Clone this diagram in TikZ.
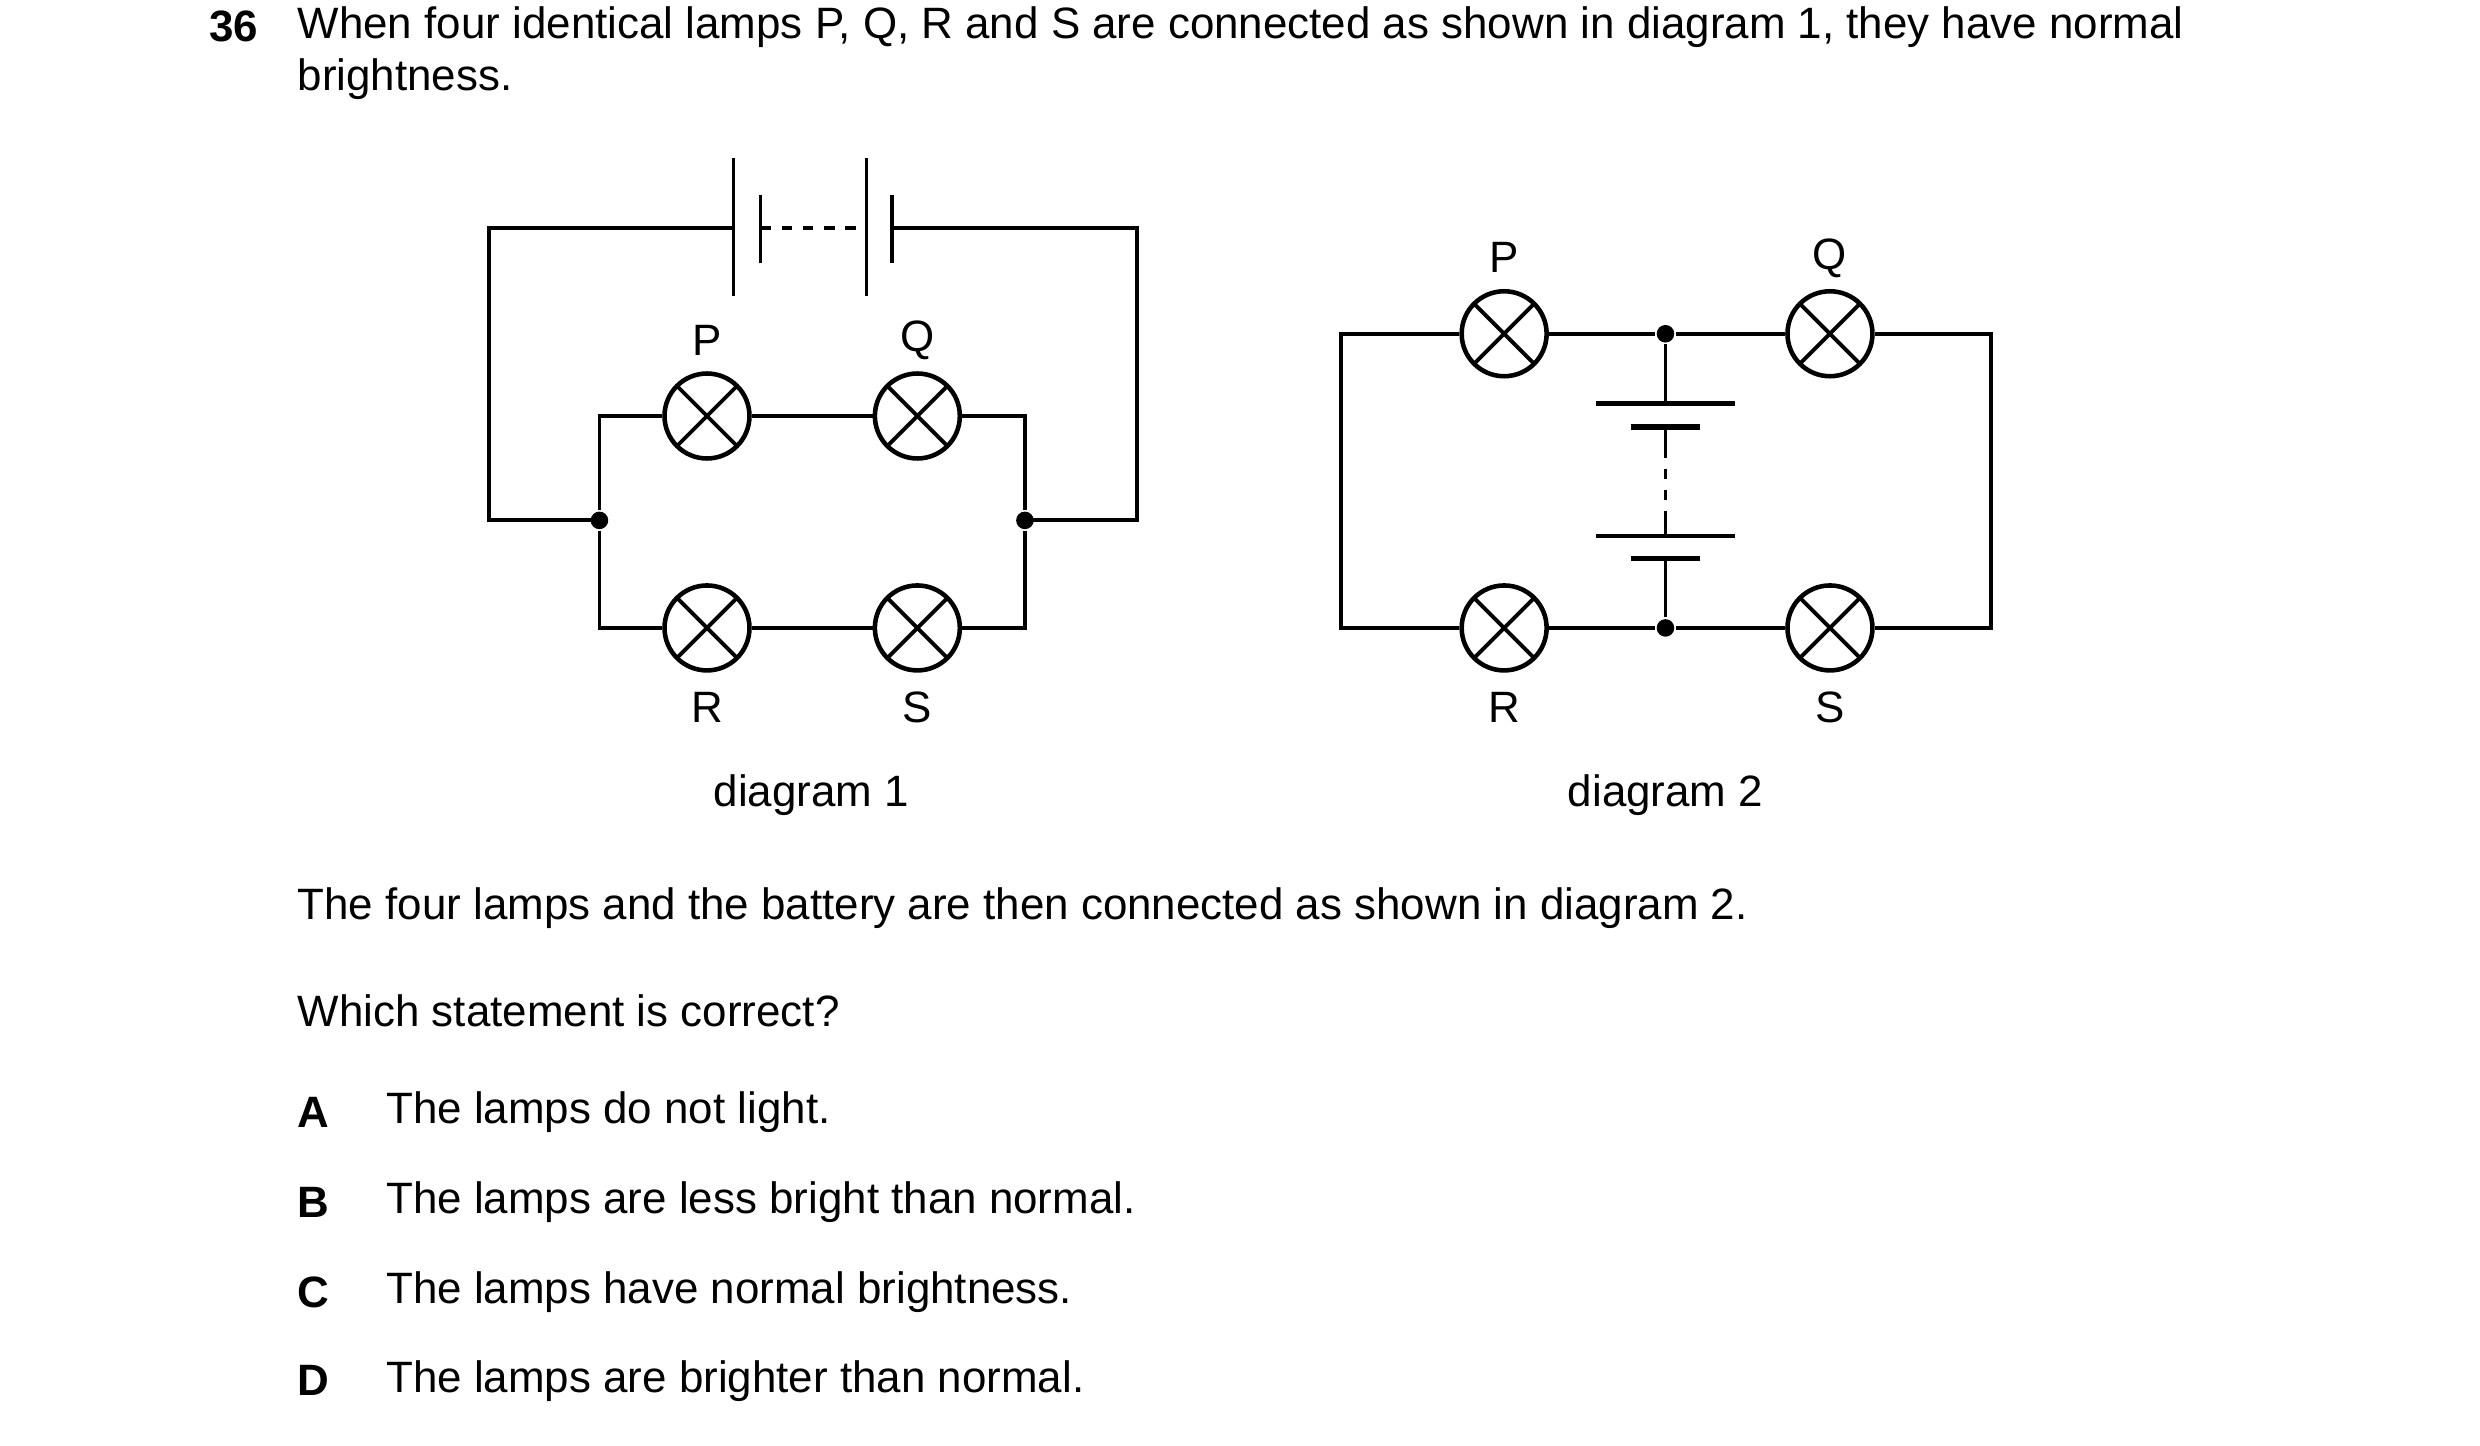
\documentclass[tikz,border=0pt]{standalone}
\usepackage{fontspec}
\setmainfont{Liberation Sans}
\begin{document}
\begin{tikzpicture}[x=0.015816cm,y=-0.015816cm,line width=1.1pt,
	lamp/.style={circle,draw,line width=1.3pt,fill=white,minimum size=0.85cm,inner sep=0pt,
		path picture={\draw[line width=1.1pt] (path picture bounding box.north west) -- (path picture bounding box.south east)
		(path picture bounding box.north east) -- (path picture bounding box.south west);}},
	jdot/.style={circle,fill,inner sep=0pt,minimum size=5pt},
	txt/.style={anchor=west,inner sep=0pt,font=\fontsize{12.5}{15}\selectfont},
	lbl/.style={inner sep=0pt,font=\fontsize{12.5}{15}\selectfont}]
	
	\useasboundingbox (0,0) rectangle (1568,914);
	
	% texto
	\node[txt,font=\fontsize{12.5}{15}\selectfont\bfseries] (num) at (131,17) {36};
	\node[txt] (l1) at (187,17) {When four identical lamps P, Q, R and S are connected as shown in diagram 1, they have normal};
	\node[txt] (l2) at (187,50) {brightness.};
	\node[txt] (l3) at (187,574) {The four lamps and the battery are then connected as shown in diagram 2.};
	\node[txt] (l4) at (187,639) {Which statement is correct?};
	\foreach \opt/\txtline/\yy in {A/The lamps do not light./703,B/The lamps are less bright than normal./760,C/The lamps have normal brightness./817,D/The lamps are brighter than normal./873}{
		\node[txt,font=\fontsize{12.5}{15}\selectfont\bfseries] (opt\opt) at (187,\yy) {\opt};
		\node[txt] (ans\opt) at (243,\yy) {\txtline};
	}
	
	% diagrama 1
	\coordinate (bl) at (464,144);
	\coordinate (br) at (564,144);
	\draw (bl) -- (309,144) -- (309,329) -- (379,329);
	\draw (br) -- (719,144) -- (719,329) -- (648,329);
	\draw[line width=0.9pt] (464,100) -- (464,187) (548,100) -- (548,187);
	\draw[line width=0.9pt] (481,123) -- (481,166) (564,123) -- (564,166);
	\draw[dashed] (481,144) -- (548,144);
	\node[lamp] (P1) at (447,263) {};
	\node[lamp] (Q1) at (580,263) {};
	\node[lamp] (R1) at (447,397) {};
	\node[lamp] (S1) at (580,397) {};
	\node[jdot] (j1) at (379,329) {};
	\node[jdot] (j2) at (648,329) {};
	\draw (j1) -- (379,263) -- (P1) -- (Q1) -- (648,263) -- (j2);
	\draw (j1) -- (379,397) -- (R1) -- (S1) -- (648,397) -- (j2);
	\node[lbl] at (447,215) {P};
	\node[lbl] at (580,215) {Q};
	\node[lbl] at (447,447) {R};
	\node[lbl] at (580,447) {S};
	\node[lbl] (d1) at (513,503) {diagram 1};
	
	% diagrama 2
	\node[lamp] (P2) at (951,211) {};
	\node[lamp] (Q2) at (1157,211) {};
	\node[lamp] (R2) at (951,397) {};
	\node[lamp] (S2) at (1157,397) {};
	\node[jdot] (j3) at (1053,211) {};
	\node[jdot] (j4) at (1053,397) {};
	\draw (P2) -- (j3) -- (Q2) -- (1259,211) -- (1259,397) -- (S2) -- (j4) -- (R2) -- (848,397) -- (848,211) -- (P2);
	\draw (j3) -- (1053,255) (1053,270) -- (1053,283);
	\draw[dashed,line width=0.8pt] (1053,283) -- (1053,325);
	\draw (1053,339) -- (1053,325) (1053,353) -- (j4);
	\draw[line width=1.3pt] (1009,255) -- (1097,255) (1009,339) -- (1097,339);
	\draw[line width=1.6pt] (1031,270) -- (1075,270) (1031,353) -- (1075,353);
	\node[lbl] at (951,163) {P};
	\node[lbl] at (1157,163) {Q};
	\node[lbl] at (951,447) {R};
	\node[lbl] at (1157,447) {S};
	\node[lbl] (d2) at (1053,503) {diagram 2};
\end{tikzpicture}
\end{document}
